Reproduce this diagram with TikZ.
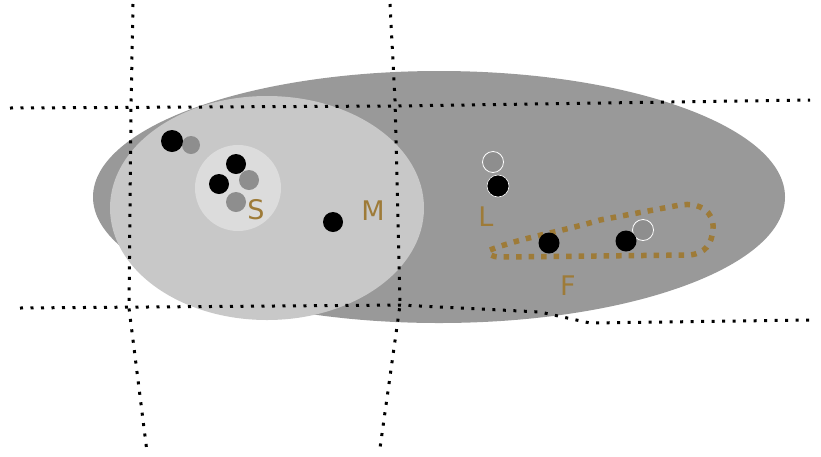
\documentclass[tikz,border=0pt]{standalone}
\usepackage{fontspec}
\newfontfamily\labfont{DejaVu Sans}
\definecolor{darkg}{HTML}{999999}
\definecolor{lightg}{HTML}{C8C8C8}
\definecolor{paleg}{HTML}{DCDCDC}
\definecolor{midg}{HTML}{8E8E8E}
\definecolor{brown}{HTML}{9E7B38}
\tikzset{
  blackdot/.style={circle, fill=black, inner sep=0pt, minimum size=#1},
  graydot/.style={circle, fill=midg, inner sep=0pt, minimum size=#1},
  ringdot/.style={circle, fill=midg, draw=white, line width=0.8pt, inner sep=0pt, minimum size=#1},
  lab/.style={text=brown, font=\labfont\fontsize{27}{27}\selectfont, inner sep=0pt},
  grid/.style={line width=3pt, dash pattern=on 3pt off 7.5pt, black},
  floop/.style={line width=5.5pt, dash pattern=on 5.5pt off 7pt, brown}
}
\begin{document}
\begin{tikzpicture}[x=1pt,y=-1pt]
\useasboundingbox (0,0) rectangle (821,456);
% big dark ellipse
\fill[darkg] (439,197) ellipse [x radius=346, y radius=126];
% light ellipse
\fill[lightg] (267,208) ellipse [x radius=157, y radius=112];
% inner circle S
\fill[paleg] (238,188) circle [radius=43];
% dotted grid lines
\draw[grid] (133,4) -- (131,108) -- (129,308) -- (147,452);
\draw[grid] (390,4) -- (395,100) -- (400,305) -- (380,448);
\draw[grid] (10,108) -- (395,106) -- (810,100);
\draw[grid] (20,308) -- (400,305) -- (540,312) -- (590,323) -- (810,320);
% F loop
\draw[floop] (490,250) .. controls (520,238) and (560,232) .. (600,220) -- (680,205) .. controls (700,202) and (714,212) .. (713,228) .. controls (712,245) and (705,253) .. (690,255) -- (500,257) .. controls (492,257) and (487,254) .. (490,250);
% dots
\node[graydot=18pt] (g1) at (191,145) {};
\node[blackdot=22pt] (b1) at (172,141) {};
\node[blackdot=20pt] (s1) at (236,164) {};
\node[graydot=20pt] (s3) at (249,180) {};
\node[blackdot=20pt] (s2) at (219,184) {};
\node[graydot=20pt] (s4) at (236,202) {};
\node[blackdot=20pt] (m1) at (333,222) {};
\node[ringdot=21pt] (l1) at (493,162) {};
\node[blackdot=22pt, draw=white, line width=0.6pt] (l2) at (498,186) {};
\node[ringdot=21pt] (f3) at (643,230) {};
\node[blackdot=21pt] (f1) at (549,243) {};
\node[blackdot=21pt] (f2) at (626,241) {};
% labels
\node[lab] (S) at (256,210) {S};
\node[lab] (M) at (373,211) {M};
\node[lab] (L) at (486,217) {L};
\node[lab] (F) at (568,286) {F};
\end{tikzpicture}
\end{document}
